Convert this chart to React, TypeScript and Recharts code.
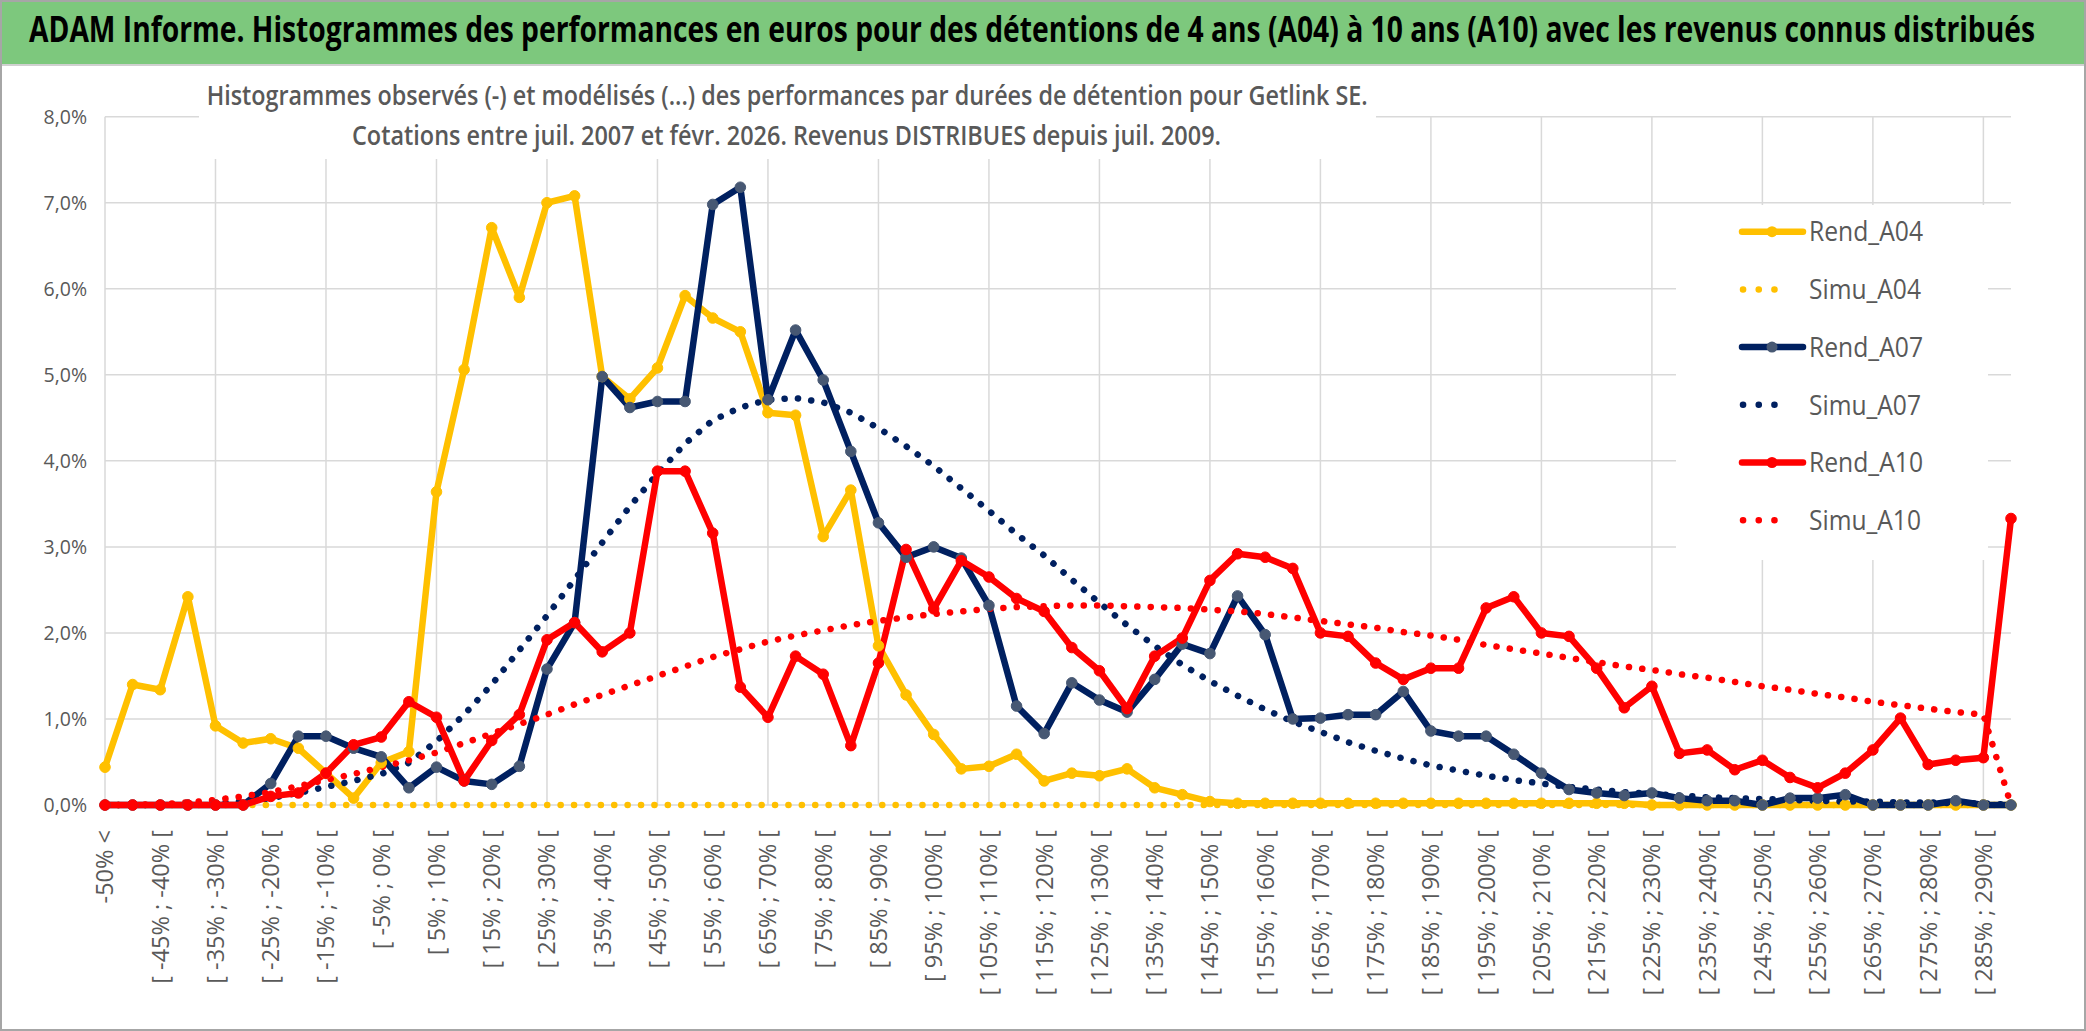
import React from 'react';
import { LineChart, Line, XAxis, YAxis, CartesianGrid, ReferenceLine } from 'recharts';

const categories = [
  '-50% <', '[ -50% ; -45% [', '[ -45% ; -40% [', '[ -40% ; -35% [', '[ -35% ; -30% [', '[ -30% ; -25% [',
  '[ -25% ; -20% [', '[ -20% ; -15% [', '[ -15% ; -10% [', '[ -10% ; -5% [', '[ -5% ; 0% [', '[ 0% ; 5% [',
  '[ 5% ; 10% [', '[ 10% ; 15% [', '[ 15% ; 20% [', '[ 20% ; 25% [', '[ 25% ; 30% [', '[ 30% ; 35% [',
  '[ 35% ; 40% [', '[ 40% ; 45% [', '[ 45% ; 50% [', '[ 50% ; 55% [', '[ 55% ; 60% [', '[ 60% ; 65% [',
  '[ 65% ; 70% [', '[ 70% ; 75% [', '[ 75% ; 80% [', '[ 80% ; 85% [', '[ 85% ; 90% [', '[ 90% ; 95% [',
  '[ 95% ; 100% [', '[ 100% ; 105% [', '[ 105% ; 110% [', '[ 110% ; 115% [', '[ 115% ; 120% [', '[ 120% ; 125% [',
  '[ 125% ; 130% [', '[ 130% ; 135% [', '[ 135% ; 140% [', '[ 140% ; 145% [', '[ 145% ; 150% [', '[ 150% ; 155% [',
  '[ 155% ; 160% [', '[ 160% ; 165% [', '[ 165% ; 170% [', '[ 170% ; 175% [', '[ 175% ; 180% [', '[ 180% ; 185% [',
  '[ 185% ; 190% [', '[ 190% ; 195% [', '[ 195% ; 200% [', '[ 200% ; 205% [', '[ 205% ; 210% [', '[ 210% ; 215% [',
  '[ 215% ; 220% [', '[ 220% ; 225% [', '[ 225% ; 230% [', '[ 230% ; 235% [', '[ 235% ; 240% [', '[ 240% ; 245% [',
  '[ 245% ; 250% [', '[ 250% ; 255% [', '[ 255% ; 260% [', '[ 260% ; 265% [', '[ 265% ; 270% [', '[ 270% ; 275% [',
  '[ 275% ; 280% [', '[ 280% ; 285% [', '[ 285% ; 290% [', '> 290%',
];

const rendA04 = [
  0.44, 1.40, 1.34, 2.42, 0.92, 0.72, 0.77, 0.66, 0.37, 0.08,
  0.49, 0.62, 3.64, 5.06, 6.71, 5.90, 7.00, 7.08, 4.98, 4.72,
  5.08, 5.92, 5.66, 5.50, 4.56, 4.53, 3.12, 3.66, 1.85, 1.28,
  0.82, 0.42, 0.45, 0.59, 0.28, 0.37, 0.34, 0.42, 0.20, 0.12,
  0.04, 0.02, 0.02, 0.02, 0.02, 0.02, 0.02, 0.02, 0.02, 0.02,
  0.02, 0.02, 0.02, 0.02, 0.02, 0.02, 0, 0, 0, 0,
  0, 0, 0, 0, 0, 0, 0, 0, 0, 0,
];

const simuA04 = [
  0, 0, 0, 0, 0, 0, 0, 0, 0, 0,
  0, 0, 0, 0, 0, 0, 0, 0, 0, 0,
  0, 0, 0, 0, 0, 0, 0, 0, 0, 0,
  0, 0, 0, 0, 0, 0, 0, 0, 0, 0,
  0, 0, 0, 0, 0, 0, 0, 0, 0, 0,
  0, 0, 0, 0, 0, 0, 0, 0, 0, 0,
  0, 0, 0, 0, 0, 0, 0, 0, 0, 0,
];

const rendA07 = [
  0, 0, 0, 0, 0, 0, 0.25, 0.80, 0.80, 0.66,
  0.56, 0.20, 0.44, 0.28, 0.24, 0.45, 1.58, 2.12, 4.98, 4.62,
  4.69, 4.69, 6.98, 7.18, 4.71, 5.52, 4.94, 4.11, 3.28, 2.88,
  3.00, 2.87, 2.32, 1.15, 0.83, 1.42, 1.22, 1.08, 1.46, 1.87,
  1.76, 2.43, 1.98, 1.00, 1.01, 1.05, 1.05, 1.32, 0.86, 0.80,
  0.80, 0.59, 0.37, 0.18, 0.14, 0.11, 0.14, 0.08, 0.05, 0.05,
  0, 0.08, 0.08, 0.12, 0, 0, 0, 0.05, 0, 0,
];

const simuA07 = [
  0, 0, 0, 0.01, 0.02, 0.04, 0.08, 0.14, 0.21, 0.28,
  0.36, 0.49, 0.74, 1.05, 1.40, 1.80, 2.20, 2.62, 3.05, 3.47,
  3.85, 4.20, 4.47, 4.62, 4.71, 4.73, 4.68, 4.56, 4.38, 4.17,
  3.94, 3.68, 3.42, 3.15, 2.90, 2.62, 2.35, 2.09, 1.85, 1.63,
  1.44, 1.27, 1.11, 0.97, 0.85, 0.73, 0.63, 0.54, 0.46, 0.40,
  0.34, 0.29, 0.25, 0.21, 0.18, 0.15, 0.13, 0.11, 0.09, 0.08,
  0.07, 0.06, 0.05, 0.04, 0.04, 0.03, 0.03, 0.02, 0.02, 0,
];

const rendA10 = [
  0, 0, 0, 0, 0, 0, 0.10, 0.14, 0.37, 0.70,
  0.79, 1.20, 1.02, 0.28, 0.75, 1.05, 1.92, 2.12, 1.78, 2.00,
  3.88, 3.88, 3.16, 1.37, 1.02, 1.73, 1.52, 0.69, 1.65, 2.97,
  2.28, 2.84, 2.65, 2.40, 2.25, 1.83, 1.56, 1.12, 1.73, 1.94,
  2.61, 2.92, 2.88, 2.75, 2.00, 1.96, 1.65, 1.46, 1.59, 1.59,
  2.29, 2.42, 2.00, 1.96, 1.59, 1.13, 1.38, 0.60, 0.64, 0.41,
  0.52, 0.32, 0.20, 0.37, 0.64, 1.01, 0.47, 0.52, 0.55, 3.33,
];

const simuA10 = [
  0, 0, 0.01, 0.03, 0.06, 0.10, 0.15, 0.22, 0.29, 0.36,
  0.44, 0.52, 0.61, 0.72, 0.83, 0.94, 1.05, 1.17, 1.28, 1.39,
  1.50, 1.61, 1.72, 1.81, 1.90, 1.97, 2.03, 2.09, 2.14, 2.18,
  2.22, 2.25, 2.28, 2.30, 2.31, 2.32, 2.32, 2.31, 2.30, 2.29,
  2.27, 2.25, 2.22, 2.18, 2.14, 2.10, 2.06, 2.01, 1.97, 1.92,
  1.86, 1.81, 1.76, 1.71, 1.66, 1.61, 1.57, 1.52, 1.48, 1.43,
  1.38, 1.34, 1.29, 1.25, 1.20, 1.16, 1.12, 1.08, 1.05, 0,
];

const yTicks = [0, 1, 2, 3, 4, 5, 6, 7, 8];

const titleText =
  'ADAM Informe. Histogrammes des performances en euros pour des détentions de 4 ans (A04) à 10 ans (A10) avec les revenus connus distribués';
const subtitle1 =
  'Histogrammes observés (-) et modélisés (...) des performances par durées de détention pour Getlink SE.';
const subtitle2 =
  'Cotations entre juil. 2007 et févr. 2026. Revenus DISTRIBUES depuis juil. 2009.';

const series = [
  { key: 'Rend_A04', values: rendA04, color: '#FFC000', marker: '#FFC000', dotted: false },
  { key: 'Simu_A04', values: simuA04, color: '#FFC000', marker: '', dotted: true },
  { key: 'Rend_A07', values: rendA07, color: '#002060', marker: '#475873', dotted: false },
  { key: 'Simu_A07', values: simuA07, color: '#002060', marker: '', dotted: true },
  { key: 'Rend_A10', values: rendA10, color: '#FF0000', marker: '#FF0000', dotted: false },
  { key: 'Simu_A10', values: simuA10, color: '#FF0000', marker: '', dotted: true },
];

const data = categories.map((cat, i) => {
  const row: Record<string, string | number> = { cat };
  series.forEach((s) => {
    row[s.key] = s.values[i];
  });
  return row;
});

const gridCats = categories.filter((_, i) => i % 4 === 0);

const FONT = "'Open Sans', 'Noto Sans', sans-serif";
const GRID = '#D9D9D9';
const TXT = '#595959';

const fmtPct = (v: number) => `${v.toFixed(1).replace('.', ',')}%`;

const YTick = (props: any) => {
  const { x, y, payload } = props;
  return (
    <text x={x} y={y} dy="0.36em" textAnchor="end" fontSize={19.5} fill={TXT} fontFamily={FONT}>
      {fmtPct(payload.value)}
    </text>
  );
};

const XTick = (props: any) => {
  const { x, y, payload } = props;
  return (
    <text
      x={x}
      y={y}
      dy="0.36em"
      textAnchor="end"
      transform={`rotate(-90, ${x}, ${y})`}
      fontSize={23.5}
      fill={TXT}
      fontFamily={FONT}
    >
      {payload.value}
    </text>
  );
};

const legendTop = 231.7;
const legendStep = 57.7;

export default function App() {
  return (
    <div style={{ position: 'absolute', left: 0, top: 0, width: 2086, height: 1031, background: '#FFFFFF' }}>
      <div style={{ position: 'absolute', left: 0, top: 0 }}>
        <LineChart
          width={2086}
          height={1031}
          data={data}
          margin={{ top: 116.7, right: 75, bottom: 0, left: 0 }}
        >
          <CartesianGrid vertical={false} stroke={GRID} strokeWidth={1.5} />
          {gridCats.map((c) => (
            <ReferenceLine key={c} x={c} stroke={GRID} strokeWidth={1.5} zIndex={-50} />
          ))}
          <XAxis
            dataKey="cat"
            type="category"
            interval={1}
            height={226}
            axisLine={false}
            tickLine={false}
            tickMargin={19}
            tick={<XTick />}
          />
          <YAxis
            type="number"
            domain={[0, 8]}
            ticks={yTicks}
            width={105}
            axisLine={false}
            tickLine={false}
            tickMargin={12}
            tick={<YTick />}
          />
          {series.map((s) =>
            s.dotted ? (
              <Line
                key={s.key}
                type="linear"
                dataKey={s.key}
                stroke={s.color}
                strokeWidth={6.5}
                strokeDasharray="0.1 13.3"
                strokeLinecap="round"
                dot={false}
                activeDot={false}
                isAnimationActive={false}
              />
            ) : (
              <Line
                key={s.key}
                type="linear"
                dataKey={s.key}
                stroke={s.color}
                strokeWidth={6.5}
                strokeLinejoin="round"
                dot={{ r: 5.3, fill: s.marker, stroke: s.marker, strokeWidth: 1 }}
                activeDot={false}
                isAnimationActive={false}
              />
            )
          )}
        </LineChart>
      </div>
      <svg
        width={2086}
        height={1031}
        style={{ position: 'absolute', left: 0, top: 0, pointerEvents: 'none' }}
      >
        <rect x={0} y={0} width={2086} height={64} fill="#7DC87D" />
        <line x1={0} y1={65} x2={2086} y2={65} stroke="#D0D0D0" strokeWidth={2} />
        <g transform="translate(0, 42) scale(1, 1.3)">
          <text
            x={29}
            y={0}
            fontSize={27}
            fontWeight={700}
            fontFamily={FONT}
            fill="#000000"
            textLength={2006}
            lengthAdjust="spacingAndGlyphs"
          >
            {titleText}
          </text>
        </g>
        <rect x={199} y={67} width={1177} height={92} fill="#FFFFFF" />
        <text
          x={206.7}
          y={105}
          fontSize={26.5}
          fontWeight={600}
          fontFamily={FONT}
          fill={TXT}
          textLength={1161}
          lengthAdjust="spacingAndGlyphs"
        >
          {subtitle1}
        </text>
        <text
          x={352}
          y={145}
          fontSize={26.5}
          fontWeight={600}
          fontFamily={FONT}
          fill={TXT}
          textLength={869}
          lengthAdjust="spacingAndGlyphs"
        >
          {subtitle2}
        </text>
        <rect x={1676} y={205} width={312} height={355} fill="#FFFFFF" />
        {series.map((s, i) => {
          const cy = legendTop + i * legendStep;
          return (
            <g key={s.key}>
              {s.dotted ? (
                <line
                  x1={1743}
                  y1={cy}
                  x2={1790}
                  y2={cy}
                  stroke={s.color}
                  strokeWidth={6.5}
                  strokeDasharray="0.1 15.6"
                  strokeLinecap="round"
                />
              ) : (
                <>
                  <line x1={1742} y1={cy} x2={1803} y2={cy} stroke={s.color} strokeWidth={6.5} strokeLinecap="round" />
                  <circle cx={1772} cy={cy} r={5.5} fill={s.marker} />
                </>
              )}
              <text
                x={1809}
                y={cy}
                dy="0.36em"
                fontSize={27}
                fontFamily={FONT}
                fill={TXT}
                textLength={s.dotted ? 112 : 114}
                lengthAdjust="spacingAndGlyphs"
              >
                {s.key}
              </text>
            </g>
          );
        })}
        <rect x={1} y={1} width={2084} height={1029} fill="none" stroke="#A6A6A6" strokeWidth={2} />
      </svg>
    </div>
  );
}
